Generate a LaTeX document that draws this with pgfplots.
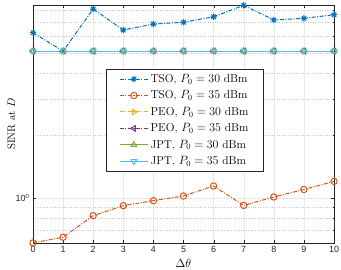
\documentclass[border=0pt]{standalone}
\usepackage{fontspec}
\usepackage{pgfplots}
\pgfplotsset{compat=1.18}
\newfontfamily\ticksf{Liberation Sans}
\definecolor{cA}{RGB}{0,114,189}
\definecolor{cB}{RGB}{217,83,25}
\definecolor{cC}{RGB}{237,177,32}
\definecolor{cD}{RGB}{126,47,142}
\definecolor{cE}{RGB}{119,172,48}
\definecolor{cF}{RGB}{77,190,238}
\definecolor{axc}{RGB}{38,38,38}
\tikzset{dashdot/.style={dash pattern=on 4pt off 1.5pt on 1pt off 1.5pt}}
\pgfdeclareplotmark{ast8}{%
 \pgfpathmoveto{\pgfqpoint{0pt}{\pgfplotmarksize}}\pgfpathlineto{\pgfqpoint{0pt}{-\pgfplotmarksize}}%
 \pgfpathmoveto{\pgfqpoint{\pgfplotmarksize}{0pt}}\pgfpathlineto{\pgfqpoint{-\pgfplotmarksize}{0pt}}%
 \pgfpathmoveto{\pgfqpoint{.707\pgfplotmarksize}{.707\pgfplotmarksize}}\pgfpathlineto{\pgfqpoint{-.707\pgfplotmarksize}{-.707\pgfplotmarksize}}%
 \pgfpathmoveto{\pgfqpoint{.707\pgfplotmarksize}{-.707\pgfplotmarksize}}\pgfpathlineto{\pgfqpoint{-.707\pgfplotmarksize}{.707\pgfplotmarksize}}%
 \pgfusepathqstroke}
\begin{document}
\begin{tikzpicture}
\begin{axis}[
  scale only axis, width=301bp, height=238bp,
  ymode=log, xmin=0, xmax=10, ymin=0.607, ymax=8.5,
  xtick={0,...,10}, xticklabels={0,1,2,3,4,5,6,7,8,9,10},
  ytick={1}, yticklabels={10\textsuperscript{0}},
  minor ytick={0.7,0.8,0.9,2,3,4,5,6,7,8},
  xmajorgrids, ymajorgrids, yminorgrids,
  major grid style={gray!18, line width=0.4pt},
  minor grid style={gray!45, dotted, line width=0.4pt},
  tick align=inside,
  axis line style={axc, line width=0.5pt},
  tick style={axc},
  major tick length=3pt, minor tick length=1.5pt,
  ticklabel style={font=\ticksf\fontsize{9}{10}\selectfont, text=axc},
  xlabel={$\Delta\theta$},
  ylabel={SINR at $D$},
  xlabel style={font=\fontsize{12}{14}\selectfont, at={(axis description cs:0.5,-0.086)}, anchor=center},
  ylabel style={font=\fontsize{11}{13}\selectfont, at={(axis description cs:-0.072,0.5)}, anchor=center},
  legend style={at={(axis description cs:0.2425,0.731)}, anchor=north west,
    font=\fontsize{11.5}{13}\selectfont, draw=axc, line width=0.5pt, fill=white,
    row sep=2.8pt, inner xsep=13pt, inner ysep=3pt},
  legend cell align=left,
  legend image code/.code={\draw[mark repeat=2,mark phase=2] plot coordinates {(0cm,0cm)(0.5cm,0cm)(1cm,0cm)};},
  every axis plot/.append style={line width=1pt, mark size=3.2pt},
]
\addplot[cA, dashdot, mark=ast8, mark options={solid, line width=1pt}] coordinates {
(0,6.25)(1,5.1)(2,8.13)(3,6.44)(4,6.88)(5,7.02)(6,7.46)(7,8.47)(8,7.2)(9,7.33)(10,7.63)};
\addlegendentry{TSO, $P_0=30$ dBm}
\addplot[cB, dashdot, mark=o, mark options={solid}] coordinates {
(0,0.608)(1,0.647)(2,0.822)(3,0.918)(4,0.971)(5,1.022)(6,1.142)(7,0.921)(8,1.011)(9,1.099)(10,1.202)};
\addlegendentry{TSO, $P_0=35$ dBm}
\addplot[cC, dashdot, mark=triangle, mark options={solid, rotate=-90}] coordinates {
(0,5.1)(1,5.1)(2,5.1)(3,5.1)(4,5.1)(5,5.1)(6,5.1)(7,5.1)(8,5.1)(9,5.1)(10,5.1)};
\addlegendentry{PEO, $P_0=30$ dBm}
\addplot[cD, dashdot, mark=triangle, mark options={solid, rotate=90}] coordinates {
(0,5.1)(1,5.1)(2,5.1)(3,5.1)(4,5.1)(5,5.1)(6,5.1)(7,5.1)(8,5.1)(9,5.1)(10,5.1)};
\addlegendentry{PEO, $P_0=35$ dBm}
\addplot[cE, solid, mark=triangle] coordinates {
(0,5.1)(1,5.1)(2,5.1)(3,5.1)(4,5.1)(5,5.1)(6,5.1)(7,5.1)(8,5.1)(9,5.1)(10,5.1)};
\addlegendentry{JPT, $P_0=30$ dBm}
\addplot[cF, solid, mark=triangle, mark options={rotate=180}] coordinates {
(0,5.1)(1,5.1)(2,5.1)(3,5.1)(4,5.1)(5,5.1)(6,5.1)(7,5.1)(8,5.1)(9,5.1)(10,5.1)};
\addlegendentry{JPT, $P_0=35$ dBm}
\end{axis}
\pgfresetboundingbox
\path ([shift={(-33bp,-27bp)}]current axis.south west) rectangle ([shift={(7bp,5bp)}]current axis.north east);
\end{tikzpicture}
\end{document}
